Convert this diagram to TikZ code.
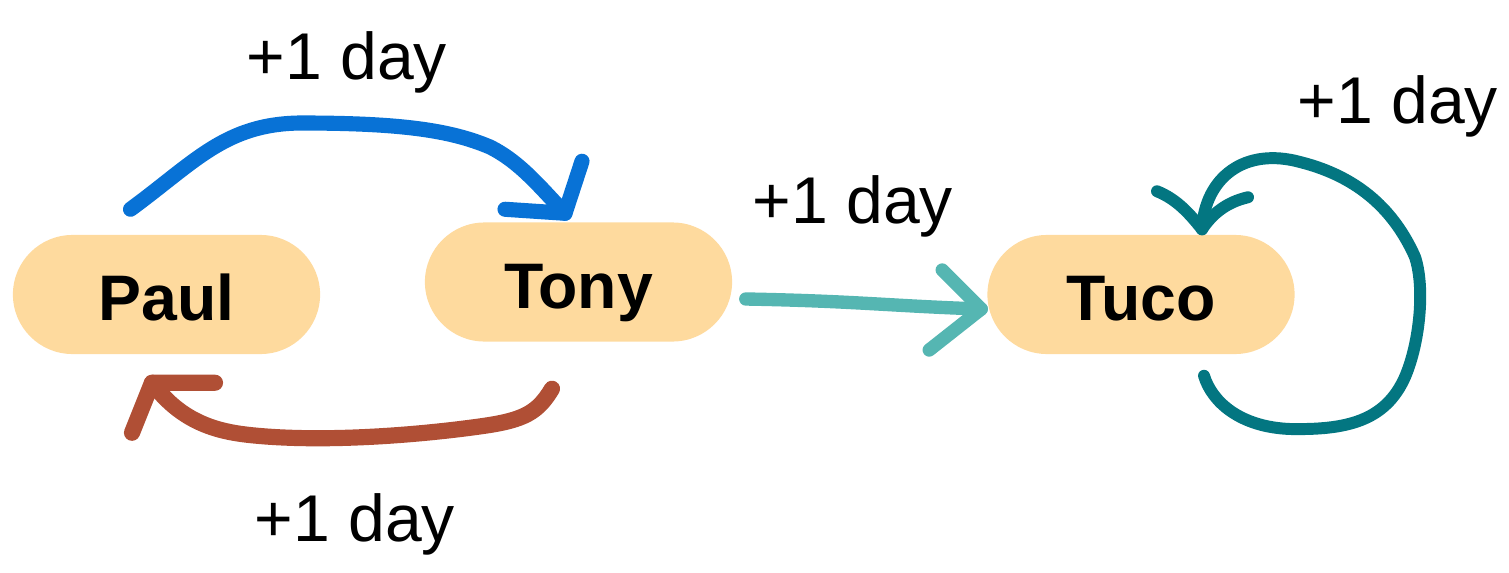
\documentclass[tikz,border=0pt]{standalone}
\usepackage{fontspec}
\setmainfont{Liberation Sans}
\usetikzlibrary{calc}
\definecolor{pillfill}{HTML}{FEDA9E}
\definecolor{blueline}{HTML}{0872D6}
\definecolor{brownline}{HTML}{B04F35}
\definecolor{tealline}{HTML}{55B6B2}
\definecolor{darkteal}{HTML}{037681}
\begin{document}
\begin{tikzpicture}[x = 0.01cm, y = 0.01cm,
        person/.style = {fill = pillfill, rounded corners = 0.595cm, minimum width = 3.07cm, minimum height = 1.19cm,
            inner sep = 0pt, text height = 0.52cm, text depth = 0pt, font = \fontsize{18.3}{22}\selectfont\bfseries},
        daytext/.style = {anchor = base west, inner sep = 0pt, font = \fontsize{18.8}{22}\selectfont},
        sketch/.style = {line cap = round, line join = round}]
            \useasboundingbox (0, 0) rectangle (1509, 572);
            \node [person] (Paul) at (166.5, 277.5) {Paul};
            \node [person] (Tony) at (578.5, 290) {Tony};
            \node [person] (Tuco) at (1141, 277.5) {Tuco};

            \coordinate (blue-a) at ($(Paul.north)+(-36, 25)$);
            \coordinate (blue-b) at ($(Tony.north)+(-13.5, 8.5)$);
            \coordinate (brown-a) at ($(Tony.south)+(-26.5, -46.5)$);
            \coordinate (brown-b) at ($(Paul.south)+(-14.5, -28)$);
            \coordinate (teal-a) at ($(Tony.east)+(13, -17)$);
            \coordinate (teal-b) at ($(Tuco.west)+(-5.5, -14.5)$);
            \coordinate (loop-a) at ($(Tuco.south)+(63, -21)$);
            \coordinate (loop-b) at ($(Tuco.north)+(61, 5)$);

            \draw [sketch, blueline, line width = 4.3pt] (blue-a) .. controls (195, 410) and (225, 448) .. (300, 449)
                .. controls (400, 449) and (450, 442) .. (490, 425) .. controls (520, 410) and (540, 385) .. (blue-b);
            \draw [sketch, blueline, line width = 4.3pt] ($(blue-b)+(-60, 4)$) -- (blue-b) -- ($(blue-b)+(17, 52)$);

            \draw [sketch, brownline, line width = 4.6pt] (brown-a) .. controls (538, 160) and (525, 152) .. (483, 146)
                .. controls (420, 137) and (330, 130) .. (260, 136) .. controls (225, 139) and (185, 145) .. (brown-b);
            \draw [sketch, brownline, line width = 4.6pt] ($(brown-b)+(-20, -50)$) -- (brown-b) -- ($(brown-b)+(63, 0)$);

            \draw [sketch, tealline, line width = 3.8pt] (teal-a) .. controls +(110, -2) and +(-90, 3) .. (teal-b);
            \draw [sketch, tealline, line width = 3.8pt] ($(teal-b)+(-39, 39)$) -- (teal-b) -- ($(teal-b)+(-52, -41)$);

            \draw [sketch, darkteal, line width = 3.4pt] (loop-a) .. controls (1212, 170) and (1240, 145) .. (1290, 143)
                .. controls (1345, 142) and (1385, 150) .. (1405, 195) .. controls (1420, 230) and (1425, 285) .. (1415, 315)
                .. controls (1395, 360) and (1360, 395) .. (1300, 410) .. controls (1245, 425) and (1205, 395) .. (loop-b);
            \draw [sketch, darkteal, line width = 3.4pt] ($(loop-b)+(-45, 38)$) .. controls +(20, -8) and +(-12, 15) .. (loop-b);
            \draw [sketch, darkteal, line width = 3.4pt] ($(loop-b)+(46, 32)$) .. controls +(-22, -5) and +(10, 15) .. (loop-b);

            \node [daytext] (day-top) at (246, 492) {+1 day};
            \node [daytext] (day-mid) at (752, 349) {+1 day};
            \node [daytext] (day-bot) at (254, 31) {+1 day};
            \node [daytext] (day-loop) at (1297, 449) {+1 day};
        \end{tikzpicture}
\end{document}
